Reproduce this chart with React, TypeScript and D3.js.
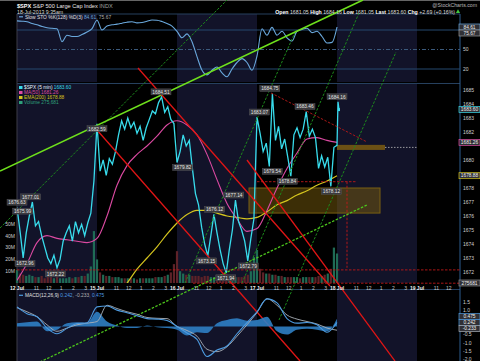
import React, { useEffect, useRef } from 'react';
import * as d3 from 'd3';

const FONT = '"Liberation Sans", Arial, sans-serif';

// 5-min closes sampled every 15 min, 26 points per session
const jul12 = [1676.6, 1674.9, 1673.0, 1674.8, 1676.0, 1677.0, 1675.3, 1675.6, 1674.6, 1673.8, 1673.0, 1672.6, 1673.2, 1672.3, 1672.9, 1674.2, 1674.8, 1675.3, 1674.2, 1675.6, 1674.8, 1675.4, 1674.6, 1675.5, 1676.2, 1678.5];
const jul15 = [1682.59, 1679.2, 1680.0, 1678.9, 1680.1, 1679.7, 1680.6, 1681.8, 1682.8, 1682.2, 1683.0, 1682.3, 1682.7, 1681.9, 1682.4, 1681.4, 1682.3, 1682.9, 1683.5, 1683.3, 1684.1, 1684.51, 1683.4, 1683.8, 1682.9, 1682.6];
const jul16 = [1679.82, 1680.6, 1681.8, 1681.0, 1681.4, 1679.4, 1677.6, 1676.8, 1675.2, 1674.0, 1673.15, 1674.6, 1676.12, 1674.8, 1673.6, 1672.6, 1671.94, 1673.6, 1675.0, 1677.14, 1675.6, 1675.0, 1674.2, 1672.79, 1674.4, 1675.8];
const jul17 = [1683.07, 1681.9, 1680.6, 1681.2, 1679.54, 1684.75, 1681.4, 1682.4, 1680.8, 1681.5, 1680.2, 1678.84, 1681.8, 1682.3, 1681.6, 1682.2, 1683.46, 1681.7, 1682.2, 1681.6, 1679.4, 1680.3, 1679.5, 1680.2, 1678.12, 1680.91];
const jul18 = [1681.05, 1684.16, 1683.6];

// volume (millions), same sampling
const vol12 = [11, 8, 7, 6, 7, 6, 5, 5, 6, 4, 5, 5, 4, 5, 4, 4, 4, 5, 4, 5, 5, 6, 6, 8, 14, 44];
const vol15 = [20, 9, 7, 6, 6, 5, 5, 5, 4, 4, 4, 4, 4, 3, 4, 4, 4, 4, 4, 5, 5, 5, 6, 7, 9, 16];
const vol16 = [27, 10, 8, 7, 7, 6, 6, 6, 5, 6, 6, 5, 5, 5, 5, 6, 8, 6, 5, 5, 5, 5, 6, 7, 10, 22];
const vol17 = [28, 12, 9, 8, 8, 7, 7, 6, 6, 5, 5, 5, 5, 5, 4, 5, 5, 5, 5, 5, 6, 6, 7, 8, 12, 30];
const vol18 = [25];

// MA(50), every 1/8 session from 12 Jul open
const ma50 = [1671.4, 1672.6, 1674.1, 1674.6, 1674.4, 1674.3, 1674.2, 1674.1, 1674.4, 1676.0, 1678.2, 1679.6, 1680.4, 1681.0, 1681.7, 1682.5, 1682.8, 1682.5, 1681.8, 1680.4, 1678.6, 1676.9, 1675.8, 1674.9, 1675.1, 1676.4, 1678.0, 1679.4, 1680.5, 1681.5, 1681.6, 1681.4, 1681.26];
// EMA(200), every 1/8 session from 15 Jul 11:30
const ema200 = [1670.4, 1671.2, 1672.2, 1673.0, 1673.8, 1674.7, 1675.5, 1676.1, 1676.4, 1676.4, 1676.2, 1676.0, 1675.9, 1675.8, 1675.9, 1676.3, 1676.8, 1677.1, 1677.5, 1677.8, 1678.2, 1678.5, 1678.88];
// Slow STO %K, every 1/16 session
const stoK = [94, 93.5, 92.8, 90, 88, 85.5, 83.5, 82.6, 82, 62, 72, 70, 70, 73, 77, 82, 95, 80, 86, 88, 89, 90.5, 92, 92.8, 91, 91.5, 93.5, 95.4, 95, 93, 90, 86, 78, 68, 74, 62, 39, 18, 11, 18, 23, 14, 8, 20, 30, 36, 30, 18, 40, 82, 72, 84, 72, 78, 68, 63, 78, 81, 82.6, 76, 78, 70, 60, 61, 84.61];
// MACD(12,26,9), every 1/8 session
const macdLine = [1.2, 0.78, 0.6, -0.1, -0.45, -0.12, 0.18, 0.22, 1.2, 1.25, 1.0, 0.84, 0.66, 0.48, 0.45, 0.36, 0.0, -0.4, -0.8, -1.85, -1.45, -1.2, -0.45, 0.24, 0.9, 1.69, 1.45, 0.48, 0.2, 0.24, 0.1, -0.36, 0.242];
const macdSignal = [1.15, 0.9, 0.6, 0.1, -0.3, -0.1, 0.1, 0.2, 0.3, 1.3, 1.1, 0.9, 0.75, 0.55, 0.5, 0.48, 0.0, -0.25, -0.6, -1.4, -1.55, -1.25, -0.6, 0.1, 0.85, 1.7, 1.3, 0.7, 0.45, 0.3, 0.15, -0.1, -0.233];
const macdHist = [0.2, 0.25, 0.3, -0.3, -0.2, 0.2, 0.25, 0.2, 0.9, 0.3, 0.05, -0.1, -0.1, 0.05, -0.05, -0.1, -0.2, -0.55, -0.35, -0.4, 0.2, 0.4, 0.5, 0.35, 0.4, 0.6, -0.3, -0.5, -0.2, -0.15, -0.2, -0.3, 0.475];

const dayLabels = ['12 Jul', '15 Jul', '16 Jul', '17 Jul', '18 Jul', '19 Jul'];
const hourTicks = [[11, '11'], [12, '12'], [13, '1'], [14, '2'], [15, '3']] as const;
const priceTicks = [1672, 1673, 1674, 1675, 1676, 1677, 1678, 1680, 1682, 1683, 1684, 1685];
const volTicks = [10, 20, 30, 40, 50];
const macdTicks = [1.5, 1.0, -0.5, -1.0, -1.5, -2.0];

// annotations: session time, price, side of the label
const peakLabels: [number, number, 'up' | 'down'][] = [
  [0.0, 1676.63, 'up'], [0.07, 1675.99, 'up'], [0.17, 1677.01, 'up'], [0.1, 1672.96, 'down'], [0.48, 1672.22, 'down'],
  [1.0, 1682.59, 'down'], [1.8, 1684.51, 'up'],
  [2.07, 1679.82, 'down'], [2.37, 1673.15, 'down'], [2.47, 1676.12, 'up'], [2.61, 1671.94, 'down'], [2.71, 1677.14, 'up'], [2.89, 1672.79, 'down'],
  [3.03, 1683.07, 'up'], [3.16, 1684.75, 'up'], [3.19, 1679.54, 'down'], [3.38, 1678.84, 'down'], [3.6, 1683.46, 'up'], [3.93, 1678.12, 'down'],
  [4.0, 1684.16, 'up'],
];

const trendLines: { kind: string; t: [number, number]; p: [number, number] }[] = [
  { kind: 'greenDash', t: [-0.2125, 2.625], p: [1675.14, 1691.43] },
  { kind: 'greenDash', t: [2.1, 3.4875], p: [1671.21, 1689.29] },
  { kind: 'greenDash', t: [2.8125, 4.275], p: [1671.21, 1690.5] },
  { kind: 'greenDash', t: [3.275, 4.7375], p: [1668.57, 1687.71] },
  { kind: 'limeDash', t: [0.2875, 4.375], p: [1665.57, 1676.79] },
  { kind: 'lime', t: [-0.2125, 4.325], p: [1679.21, 1691.43] },
  { kind: 'red', t: [1.0, 3.5375], p: [1682.14, 1665.64] },
  { kind: 'red', t: [1.5125, 3.9125], p: [1686.57, 1671.0] },
  { kind: 'red', t: [2.875, 4.725], p: [1680.0, 1665.64] },
  { kind: 'redDash', t: [3.175, 4.375], p: [1684.79, 1681.29] },
];

const lineStyle: Record<string, { c: string; w: number; dash: string | null }> = {
  lime: { c: '#6ee01c', w: 1.6, dash: null },
  limeDash: { c: '#4cc41c', w: 1.3, dash: '2.5,1.5' },
  greenDash: { c: '#1c8a1c', w: 1, dash: '2.5,1.5' },
  red: { c: '#e01515', w: 1.3, dash: null },
  redDash: { c: '#a81818', w: 1, dash: '2.5,1.5' },
};

export default function App() {
  const svgRef = useRef<SVGSVGElement | null>(null);

  useEffect(() => {
    if (!svgRef.current) return;
    const svg = d3.select(svgRef.current);
    svg.selectAll('*').remove();

    const left = 17, right = 460;
    const sto = { top: 14, bottom: 82 };
    const main = { top: 84, bottom: 283 };
    const macdP = { top: 290, bottom: 361 };

    const x = d3.scaleLinear().domain([0, 5.5375]).range([left, right]);
    const y = d3.scaleLinear().domain([1672, 1685]).range([272, 90]);
    const yVol = d3.scaleLinear().domain([0, 50]).range([283, 224]);
    const ySto = d3.scaleLinear().domain([20, 80]).range([69, 30]);
    const yMacd = d3.scaleLinear().domain([-2, 1.5]).range([359, 302]);

    const text = (tx: number, ty: number, s: string, fill = '#d8d8d8', size = 5, anchor = 'start', weight = 'normal') =>
      svg.append('text').attr('x', tx).attr('y', ty).attr('fill', fill).attr('font-size', size)
        .attr('font-family', FONT).attr('text-anchor', anchor).attr('font-weight', weight).text(s);

    const spans = (tx: number, ty: number, parts: [string, string, string?][], size = 5, anchor = 'start') => {
      const t = svg.append('text').attr('x', tx).attr('y', ty).attr('font-size', size)
        .attr('font-family', FONT).attr('text-anchor', anchor);
      parts.forEach(([s, c, w]) => t.append('tspan').attr('fill', c).attr('font-weight', w || 'normal').text(s));
    };

    svg.append('rect').attr('width', 480).attr('height', 361).attr('fill', '#000');
    svg.append('line').attr('x1', 0).attr('x2', 480).attr('y1', 0.5).attr('y2', 0.5).attr('stroke', '#666');

    // alternate session shading
    [sto, main, macdP].forEach((pn) => {
      [0, 2, 4].forEach((d) => {
        svg.append('rect').attr('x', x(d)).attr('y', pn.top)
          .attr('width', Math.min(x(d + 1), right) - x(d)).attr('height', pn.bottom - pn.top)
          .attr('fill', '#121329');
      });
    });

    // frames
    [sto.top, main.top - 0.5, macdP.top - 0.5].forEach((yy) => {
      svg.append('line').attr('x1', left).attr('x2', right).attr('y1', yy).attr('y2', yy).attr('stroke', '#26405e');
    });
    svg.append('line').attr('x1', left).attr('x2', left).attr('y1', sto.top).attr('y2', 361).attr('stroke', '#3c3c48');
    svg.append('line').attr('x1', right).attr('x2', right).attr('y1', sto.top).attr('y2', 361).attr('stroke', '#2d5d8f');

    // STO grid
    [80, 50, 20].forEach((v) => {
      svg.append('line').attr('x1', left).attr('x2', right).attr('y1', ySto(v)).attr('y2', ySto(v))
        .attr('stroke', v === 50 ? '#3b5a7c' : '#24486e').attr('stroke-dasharray', v === 50 ? '4,2,1,2' : null);
    });
    svg.append('path').datum(stoK)
      .attr('d', d3.line<number>().x((_, i) => x(i / 16)).y((v) => ySto(v)).curve(d3.curveMonotoneX))
      .attr('fill', 'none').attr('stroke', '#6aa8dc').attr('stroke-width', 1.1);

    // volume
    const priceDays = [jul12, jul15, jul16, jul17];
    const volDays = [vol12, vol15, vol16, vol17];
    const pricePts = priceDays.flatMap((arr, d) => arr.map((p, k) => ({ t: d + k / 26, p })))
      .concat(jul18.map((p, k) => ({ t: 4 + k / 80, p })));
    const volPts = volDays.flatMap((arr, d) => arr.map((v, k) => ({ t: d + k / 26, v, i: d * 26 + k })))
      .concat(vol18.map((v) => ({ t: 4, v, i: 104 })));
    volPts.forEach((b) => {
      const up = b.i === 0 || pricePts[b.i].p >= pricePts[b.i - 1].p;
      svg.append('rect').attr('x', x(b.t) - 1.1).attr('width', 2.2)
        .attr('y', yVol(b.v)).attr('height', yVol(0) - yVol(b.v))
        .attr('fill', up ? '#1f6b55' : '#5e2228');
    });

    // support / resistance box
    svg.append('rect').attr('x', x(2.9)).attr('y', y(1678.0)).attr('width', x(4.5375) - x(2.9))
      .attr('height', y(1676.21) - y(1678.0)).attr('fill', 'rgba(120,92,12,0.5)').attr('stroke', '#7a6012');
    svg.append('rect').attr('x', x(4.0)).attr('y', y(1681.08)).attr('width', x(4.6) - x(4.0))
      .attr('height', y(1680.72) - y(1681.08)).attr('fill', '#6b5014');
    svg.append('line').attr('x1', x(4.6)).attr('x2', x(5)).attr('y1', y(1680.9)).attr('y2', y(1680.9))
      .attr('stroke', '#bbb').attr('stroke-dasharray', '1.5,1.5').attr('stroke-width', 0.8);

    // main panel series
    const clip = svg.append('clipPath').attr('id', 'mainclip');
    clip.append('rect').attr('x', left).attr('y', main.top).attr('width', right - left).attr('height', main.bottom - main.top);
    const g = svg.append('g').attr('clip-path', 'url(#mainclip)');
    g.append('path').datum(ema200)
      .attr('d', d3.line<number>().x((_, i) => x(1.25 + i / 8)).y((v) => y(v)).curve(d3.curveMonotoneX))
      .attr('fill', 'none').attr('stroke', '#d4c41e').attr('stroke-width', 1.2);
    g.append('path').datum(ma50)
      .attr('d', d3.line<number>().x((_, i) => x(i / 8)).y((v) => y(v)).curve(d3.curveMonotoneX))
      .attr('fill', 'none').attr('stroke', '#dc4aa2').attr('stroke-width', 1.1);
    g.append('path').datum(pricePts)
      .attr('d', d3.line<{ t: number; p: number }>().x((d) => x(d.t)).y((d) => y(d.p)))
      .attr('fill', 'none').attr('stroke', '#38dcec').attr('stroke-width', 1.3);
    const last = pricePts[pricePts.length - 1];
    svg.append('rect').attr('x', x(last.t) - 1).attr('y', y(last.p) - 1.5).attr('width', 2).attr('height', 3).attr('fill', '#38dcec');

    // horizontal / vertical dashed red guides
    const redDash = (x1: number, x2: number, y1: number, y2: number) =>
      svg.append('line').attr('x1', x1).attr('x2', x2).attr('y1', y1).attr('y2', y2)
        .attr('stroke', '#c01818').attr('stroke-dasharray', '2.5,1.5').attr('stroke-width', 0.9);
    redDash(x(0), x(5.5375), y(1672.15), y(1672.15));
    redDash(x(2.2), x(5.5375), y(1671.2), y(1671.2));
    redDash(x(3.0), x(4.25), y(1678.45), y(1678.45));
    redDash(x(4.125), x(4.125), y(1678.45), y(1672.3));

    // trend lines
    trendLines.forEach((l) => {
      const s = lineStyle[l.kind];
      svg.append('line').attr('x1', x(l.t[0])).attr('y1', y(l.p[0])).attr('x2', x(l.t[1])).attr('y2', y(l.p[1]))
        .attr('stroke', s.c).attr('stroke-width', s.w).attr('stroke-dasharray', s.dash);
    });

    // price labels
    peakLabels.forEach(([t, p, side]) => {
      const cx = x(t);
      const cy = y(p) + (side === 'up' ? -5 : 5);
      svg.append('rect').attr('x', cx - 10).attr('y', cy - 3).attr('width', 20).attr('height', 6)
        .attr('fill', '#3a3a3e').attr('stroke', '#5a5a60').attr('stroke-width', 0.4);
      text(cx, cy + 1.8, p.toFixed(2), '#e6e6e6', 4.8, 'middle');
    });

    // MACD
    svg.append('path').datum(macdHist)
      .attr('d', d3.area<number>().x((_, i) => x(i / 8)).y0(yMacd(0)).y1((v) => yMacd(v)).curve(d3.curveMonotoneX))
      .attr('fill', '#2f80c4').attr('opacity', 0.9);
    svg.append('path').datum(macdSignal)
      .attr('d', d3.line<number>().x((_, i) => x(i / 8)).y((v) => yMacd(v)).curve(d3.curveMonotoneX))
      .attr('fill', 'none').attr('stroke', '#a9b0b8').attr('stroke-width', 0.9);
    svg.append('path').datum(macdLine)
      .attr('d', d3.line<number>().x((_, i) => x(i / 8)).y((v) => yMacd(v)).curve(d3.curveMonotoneX))
      .attr('fill', 'none').attr('stroke', '#4d9be0').attr('stroke-width', 1.1);

    // x axis labels
    dayLabels.forEach((lab, d) => {
      if (x(d) < right) text(x(d), 289.5, lab, '#f0f0f0', 5, 'middle', 'bold');
      hourTicks.forEach(([h, l]) => {
        const xx = x(d + (h - 9.5) / 6.5);
        if (xx < right - 6) text(xx + 1, 289.5, l, '#c8c8c8', 5, 'middle');
      });
    });

    // right axes
    priceTicks.forEach((p) => text(right + 3, y(p) + 1.8, String(p), '#cfcfcf', 5));
    text(right + 3, ySto(50) + 1.8, '50', '#cfcfcf', 5);
    text(right + 3, ySto(20) + 1.8, '20', '#cfcfcf', 5);
    macdTicks.forEach((v) => text(right + 3, yMacd(v) + 1.8, v.toFixed(1), '#cfcfcf', 5));
    volTicks.forEach((v) => text(15, yVol(v) + 1.8, `${v}M`, '#cfcfcf', 5, 'end'));

    const box = (yy: number, s: string, stroke: string) => {
      svg.append('rect').attr('x', right - 1).attr('y', yy - 3).attr('width', 21).attr('height', 6)
        .attr('fill', '#303036').attr('stroke', stroke).attr('stroke-width', 0.7);
      text(right + 9.5, yy + 1.8, s, '#f0f0f0', 4.8, 'middle');
    };
    box(27, '84.61', '#6aa8dc');
    box(33, '75.67', '#9a9a9a');
    box(y(1683.6), '1683.60', '#38dcec');
    box(y(1681.26), '1681.26', '#dc4aa2');
    box(y(1678.88), '1678.88', '#d4c41e');
    box(283, '275681', '#8a8a8a');
    box(316.5, '0.475', '#4d9be0');
    box(322.5, '0.242', '#4d9be0');
    box(328.5, '-0.233', '#a9b0b8');

    // legends
    spans(17, 7.5, [['$SPX ', '#ffffff', 'bold'], ['S&P 500 Large Cap Index ', '#e8e8e8'], ['INDX', '#a0a0a0']], 5.6);
    text(17, 13.5, '18-Jul-2013 9:35am', '#d8d8d8', 5.2);
    text(477, 7, '@StockCharts.com', '#b8b8b8', 5.2, 'end');
    spans(455, 13.5, [
      ['Open ', '#fff', 'bold'], ['1681.05 ', '#ddd'], ['High ', '#fff', 'bold'], ['1684.16 ', '#ddd'],
      ['Low ', '#fff', 'bold'], ['1681.05 ', '#ddd'], ['Last ', '#fff', 'bold'], ['1683.60 ', '#ddd'],
      ['Chg ', '#fff', 'bold'], ['+2.69 (+0.16%)', '#ddd'],
    ], 5.2, 'end');
    svg.append('path').attr('d', d3.symbol(d3.symbolTriangle, 8)()).attr('transform', 'translate(458,11.8)').attr('fill', '#3ec43e');

    svg.append('line').attr('x1', 19).attr('x2', 23).attr('y1', 16.8).attr('y2', 16.8).attr('stroke', '#6aa8dc').attr('stroke-width', 1.2);
    spans(25, 18.5, [['Slow STO %K(128) %D(3) ', '#e0e0e0'], ['84.61', '#6aa8dc'], [', 75.67', '#b0b0b0']], 4.9);

    const legend: [string, string, string][] = [
      ['$SPX (5 min) ', '1683.60', '#38dcec'],
      ['MA(50) ', '1681.26', '#dc4aa2'],
      ['EMA(200) ', '1678.88', '#d4c41e'],
      ['Volume ', '275,681', '#2ea07a'],
    ];
    legend.forEach(([l, v, c], i) => {
      const yy = 89 + i * 5;
      svg.append('rect').attr('x', 19).attr('y', yy - 3).attr('width', 3.5).attr('height', 3).attr('fill', c);
      spans(24, yy, [[l, i === 0 ? '#e8f8ff' : c], [v, c]], 4.8);
    });

    svg.append('line').attr('x1', 19).attr('x2', 23).attr('y1', 295.3).attr('y2', 295.3).attr('stroke', '#4d9be0').attr('stroke-width', 1.2);
    spans(25, 297, [['MACD(12,26,9) ', '#e0e0e0'], ['0.242', '#4d9be0'], [', -0.233', '#b0b0b0'], [', 0.475', '#4d9be0']], 4.9);
  }, []);

  return (
    <div style={{ position: 'fixed', left: 0, top: 0 }}>
      <svg ref={svgRef} width={480} height={361} style={{ display: 'block' }} />
    </div>
  );
}
